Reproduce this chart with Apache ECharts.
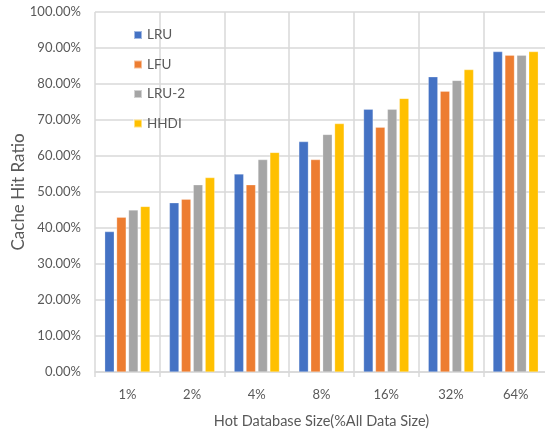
<!DOCTYPE html>
<html><head><meta charset="utf-8">
<script src="https://cdn.jsdelivr.net/npm/echarts@6/dist/echarts.min.js"></script>
<style>html,body{margin:0;padding:0;background:#fff}#c{width:545px;height:435px}</style>
</head><body><div id="c"></div>
<script>
const categories = ['1%','2%','4%','8%','16%','32%','64%'];
const seriesNames = ['LRU','LFU','LRU-2','HHDI'];
const lru  = [39,47,55,64,73,82,89];
const lfu  = [43,48,52,59,68,78,88];
const lru2 = [45,52,59,66,73,81,88];
const hhdi = [46,54,61,69,76,84,89];
const colors = ['#4472C4','#ED7D31','#A5A5A5','#FFC000'];
const values = [lru, lfu, lru2, hhdi];
const font = 'Lato, "Open Sans", sans-serif';
const chart = echarts.init(document.getElementById('c'));
chart.setOption({
  animation:false,
  textStyle:{fontFamily:font},
  grid:{left:95, top:12, right:-3, bottom:63, containLabel:false, outerBoundsMode:'none'},
  legend:{
    orient:'vertical', left:128, top:23, itemGap:15.5,
    itemWidth:8, itemHeight:8, icon:'rect',
    textStyle:{color:'#595959', fontSize:13.5, fontFamily:font},
    data:seriesNames
  },
  xAxis:{
    type:'category', data:categories,
    name:'Hot Database Size(%All Data Size)', nameLocation:'middle', nameGap:42, nameMoveOverlap:false,
    nameTextStyle:{color:'#595959', fontSize:14.5, fontFamily:font},
    axisLine:{lineStyle:{color:'#d9d9d9', width:1.5}},
    axisTick:{show:true, length:5, lineStyle:{color:'#d9d9d9', width:1.5}},
    axisLabel:{color:'#595959', fontSize:13, margin:16, fontFamily:font},
    splitLine:{show:true, lineStyle:{color:'#d9d9d9', width:1.5}}
  },
  yAxis:{
    type:'value', min:0, max:100, interval:10,
    name:'Cache Hit Ratio', nameLocation:'middle', nameGap:68, nameMoveOverlap:false,
    nameTextStyle:{color:'#595959', fontSize:17, fontFamily:font},
    axisLine:{show:false}, axisTick:{show:false},
    axisLabel:{color:'#595959', fontSize:13, margin:14, fontFamily:font, formatter:v=>v.toFixed(2)+'%'},
    splitLine:{show:true, lineStyle:{color:'#d9d9d9', width:1.5}}
  },
  series: seriesNames.map((n,i)=>({
    name:n, type:'bar', data:values[i],
    barCategoryGap:'30%', barGap:'25%',
    itemStyle:{color:colors[i], borderColor:'rgba(255,255,255,0.5)', borderWidth:0.5}
  }))
});
</script></body></html>
